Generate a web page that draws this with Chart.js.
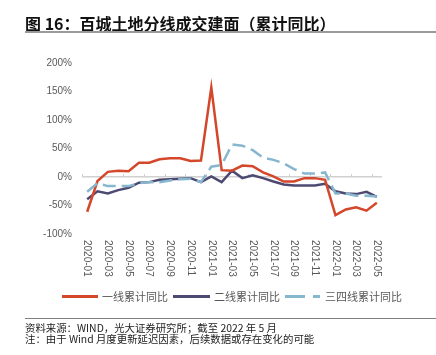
<!DOCTYPE html>
<html>
<head>
<meta charset="utf-8">
<script src="https://cdn.jsdelivr.net/npm/chart.js@4.4.1/dist/chart.umd.min.js"></script>
<style>
  html, body { margin: 0; padding: 0; background: #fff; }
  #wrap { position: relative; width: 436px; height: 355px; overflow: hidden;
          font-family: "Liberation Sans", "Noto Sans CJK SC", sans-serif; }
  #c { position: absolute; left: 0; top: 0; }
  .title { position: absolute; left: 25px; top: 13px; font-size: 16px; font-weight: bold;
           color: #111; line-height: 20px; white-space: nowrap;
           font-family: "Noto Sans CJK SC", "Liberation Sans", sans-serif; }
  .rule1 { position: absolute; left: 25px; right: 0; top: 31px; height: 2px; background: #9a9a9a; }
  .rule2 { position: absolute; left: 25px; right: 0; top: 318px; height: 1px; background: #7f7f7f; }
  .foot { position: absolute; left: 25px; font-size: 10.4px; color: #222; line-height: 11px; white-space: nowrap;
          font-family: "Noto Sans CJK SC", "Liberation Sans", sans-serif; }
  .lg { position: absolute; top: 290px; font-size: 11px; color: #595959; line-height: 13px; white-space: nowrap;
        font-family: "Noto Sans CJK SC", "Liberation Sans", sans-serif; }
  .lgline { position: absolute; top: 295px; height: 3px; }
</style>
</head>
<body>
<div id="wrap">
  <canvas id="c" width="436" height="355"></canvas>
  <div class="title">图 16：百城土地分线成交建面（累计同比）</div>
  <div class="rule1"></div>
  <div class="lgline" style="left:62px;width:36px;background:#D4472A;"></div>
  <div class="lg" style="left:102px;">一线累计同比</div>
  <div class="lgline" style="left:173px;width:37px;background:#4D4A72;"></div>
  <div class="lg" style="left:214px;">二线累计同比</div>
  <svg style="position:absolute;left:285px;top:294px;" width="36" height="5">
    <line x1="0" y1="2.5" x2="35" y2="2.5" stroke="#86B7CE" stroke-width="3" stroke-dasharray="20 8"/>
  </svg>
  <div class="lg" style="left:325px;">三四线累计同比</div>
  <div class="rule2"></div>
  <div class="foot" style="top:322px;">资料来源：WIND，光大证券研究所；截至 2022 年 5 月</div>
  <div class="foot" style="top:333px;">注：由于 Wind 月度更新延迟因素，后续数据或存在变化的可能</div>
</div>
<script>
const months = ["2020-01","2020-02","2020-03","2020-04","2020-05","2020-06","2020-07","2020-08","2020-09","2020-10","2020-11","2020-12",
                "2021-01","2021-02","2021-03","2021-04","2021-05","2021-06","2021-07","2021-08","2021-09","2021-10","2021-11","2021-12",
                "2022-01","2022-02","2022-03","2022-04","2022-05"];
const tier1 = [-61, -7, 9, 11, 10, 25, 25, 31, 33, 33, 28, 29, 157, 12, 11, 20, 19, 8, 1, -8, -8, -2, -2, -5, -67, -57, -53, -59, -45];
const tier2 = [-39, -25, -29, -23, -19, -10, -9, -5, -4, -3, -2, -9, 1, -9, 11, -2, 3, -2, -8, -13, -15, -15, -15, -12, -25, -29, -30, -26, -35];
const tier3 = [-26, -11, -16, -16, -16, -11, -9, -9, -6, -4, -3, -9, 18, 21, 57, 55, 47, 34, 30, 24, 14, 6, 6, 8, -29, -29, -33, -33, -34];
const yTicks = [-100, -50, 0, 50, 100, 150, 200];

const xDecor = {
  id: 'xDecor',
  beforeDatasetsDraw(chart) {
    const ctx = chart.ctx, xs = chart.scales.x, ys = chart.scales.y;
    const y0 = ys.getPixelForValue(0);
    ctx.save();
    ctx.strokeStyle = '#d0d0d0';
    ctx.lineWidth = 1;
    for (let i = 0; i <= months.length; i += 2) {
      let x;
      if (i === 0) x = xs.left;
      else if (i >= months.length) x = xs.right;
      else x = (xs.getPixelForValue(i) + xs.getPixelForValue(i - 1)) / 2;
      x = Math.round(x) + 0.5;
      ctx.beginPath();
      ctx.moveTo(x, y0);
      ctx.lineTo(x, y0 - 3);
      ctx.stroke();
    }
    ctx.restore();
  },
  afterDraw(chart) {
    const ctx = chart.ctx, xs = chart.scales.x;
    ctx.save();
    ctx.fillStyle = '#595959';
    ctx.font = '10px "Liberation Sans", sans-serif';
    ctx.textAlign = 'left';
    ctx.textBaseline = 'middle';
    for (let i = 0; i < months.length; i += 2) {
      const x = xs.getPixelForValue(i);
      ctx.save();
      ctx.translate(x, 240);
      ctx.rotate(Math.PI / 2);
      ctx.fillText(months[i], 0, 0);
      ctx.restore();
    }
    ctx.restore();
  }
};

new Chart(document.getElementById('c'), {
  type: 'line',
  data: {
    labels: months,
    datasets: [
      { label: '三四线累计同比', data: tier3, borderColor: '#86B7CE', backgroundColor: '#86B7CE',
        borderWidth: 2.5, borderDash: [13, 6], pointRadius: 0, tension: 0, fill: false },
      { label: '一线累计同比', data: tier1, borderColor: '#D4472A', backgroundColor: '#D4472A',
        borderWidth: 2.5, pointRadius: 0, tension: 0, fill: false },
      { label: '二线累计同比', data: tier2, borderColor: '#4D4A72', backgroundColor: '#4D4A72',
        borderWidth: 2.5, pointRadius: 0, tension: 0, fill: false }
    ]
  },
  options: {
    responsive: false,
    animation: false,
    layout: { padding: { top: 63, bottom: 121, left: 0, right: 54 } },
    plugins: { legend: { display: false }, tooltip: { enabled: false } },
    scales: {
      x: { type: 'category', offset: true, display: false },
      y: {
        min: -100, max: 200,
        afterBuildTicks(scale) { scale.ticks = yTicks.map(v => ({ value: v })); },
        afterFit(scale) { scale.width = 82; },
        border: { display: false },
        grid: {
          drawTicks: false,
          lineWidth: 1.5,
          color: (c) => (c.tick && c.tick.value === 0) ? '#d0d0d0' : 'rgba(0,0,0,0)'
        },
        ticks: {
          padding: 10,
          color: '#595959',
          font: { size: 10, family: '"Liberation Sans", sans-serif' },
          callback: (v) => v + '%'
        }
      }
    }
  },
  plugins: [xDecor]
});
</script>
</body>
</html>
